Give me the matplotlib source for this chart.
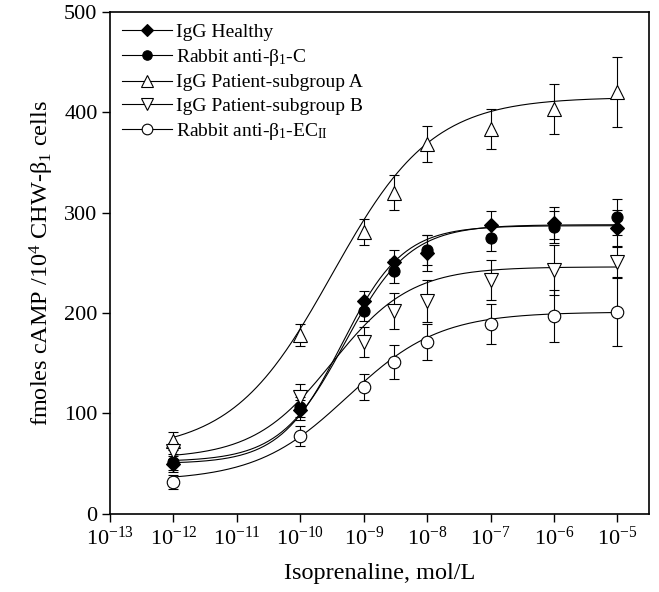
import numpy as np
import matplotlib
matplotlib.use("Agg")
import matplotlib.pyplot as plt

plt.rcParams["font.family"] = ["Liberation Serif", "DejaVu Serif"]
plt.rcParams["mathtext.fontset"] = "custom"
plt.rcParams["mathtext.rm"] = "Liberation Serif"
plt.rcParams["mathtext.it"] = "Liberation Serif:italic"

# concentrations (mol/L)
conc = [1e-12, 1e-10, 1e-9, 3e-9, 1e-8, 1e-7, 1e-6, 1e-5]

# fmoles cAMP per 10^4 cells, mean and error
healthy = [50, 103, 212, 251, 260, 288, 290, 285]
healthy_err = [8, 10, 10, 12, 18, 14, 16, 18]
rabbit_c = [52, 106, 202, 242, 263, 275, 286, 296]
rabbit_c_err = [8, 10, 10, 12, 15, 13, 16, 18]
group_a = [73, 178, 281, 320, 368, 383, 403, 420]
group_a_err = [9, 11, 13, 17, 18, 20, 25, 35]
group_b = [63, 116, 171, 202, 212, 233, 243, 251]
group_b_err = [8, 13, 15, 18, 21, 20, 25, 15]
rabbit_ec = [32, 78, 126, 151, 171, 189, 197, 201]
rabbit_ec_err = [7, 10, 13, 17, 18, 20, 26, 34]

# fitted sigmoid parameters: bottom, top, log EC50, Hill slope
fit_healthy = [50, 287, -9.35, 0.9]
fit_rabbit_c = [52, 288, -9.3, 0.85]
fit_group_a = [62, 415, -9.5, 0.55]
fit_group_b = [55, 246, -9.5, 0.7]
fit_rabbit_ec = [33, 201, -9.25, 0.6]

labels = [
    "IgG Healthy",
    r"Rabbit anti-β$_1$-C",
    "IgG Patient-subgroup A",
    "IgG Patient-subgroup B",
    r"Rabbit anti-β$_1$-EC$_{\mathrm{II}}$",
]


def sigmoid(logx, p):
    bottom, top, logec50, hill = p
    return bottom + (top - bottom) / (1 + 10 ** ((logec50 - logx) * hill))


fig = plt.figure(figsize=(6.59, 5.92), dpi=100)
ax = fig.add_axes([0.167, 0.132, 0.818, 0.848])

series = [
    (healthy, healthy_err, fit_healthy, "D", "black", 7.5),
    (rabbit_c, rabbit_c_err, fit_rabbit_c, "o", "black", 8),
    (group_a, group_a_err, fit_group_a, "^", "white", 10),
    (group_b, group_b_err, fit_group_b, "v", "white", 10),
    (rabbit_ec, rabbit_ec_err, fit_rabbit_ec, "o", "white", 9),
]

logx = np.linspace(np.log10(conc[0]), np.log10(conc[-1]), 300)
handles = []
for (vals, err, fit, marker, face, ms), label in zip(series, labels):
    ax.plot(10 ** logx, sigmoid(logx, fit), color="black", lw=0.8, zorder=2)
    ax.errorbar(conc, vals, yerr=err, fmt="none", ecolor="black",
                elinewidth=0.8, capsize=3.5, capthick=0.8, zorder=1)
    ax.plot(conc, vals, linestyle="none", marker=marker, markersize=ms,
            markerfacecolor=face, markeredgecolor="black",
            markeredgewidth=0.8, zorder=3)
    h, = ax.plot([], [], color="black", lw=0.8, marker=marker,
                 markersize=ms * 0.85, markerfacecolor=face,
                 markeredgecolor="black", markeredgewidth=0.8, label=label)
    handles.append(h)

ax.set_xscale("log")
ax.set_xlim(1e-13, 10 ** -4.5)
ax.set_ylim(0, 500)
ax.set_xticks([10.0 ** k for k in range(-13, -4)])
ax.set_xticklabels([rf"$10^{{{k}}}$" for k in range(-13, -4)])
ax.xaxis.set_minor_locator(matplotlib.ticker.NullLocator())
ax.set_yticks([0, 100, 200, 300, 400, 500])
ax.tick_params(direction="out", length=6, width=1, labelsize=16, pad=3)

for s in ax.spines.values():
    s.set_linewidth(1.2)

ax.set_xlabel("Isoprenaline, mol/L", fontsize=17.5, labelpad=10)
ax.set_ylabel(r"fmoles cAMP /10$^4$ CHW-β$_1$ cells", fontsize=17.5,
              labelpad=6)

ax.legend(handles=handles, loc="upper left", frameon=False, fontsize=14,
          handlelength=2.6, handletextpad=0.2, labelspacing=0.3,
          borderaxespad=0.3, borderpad=0.3)

fig.savefig("out.png", dpi=100)
